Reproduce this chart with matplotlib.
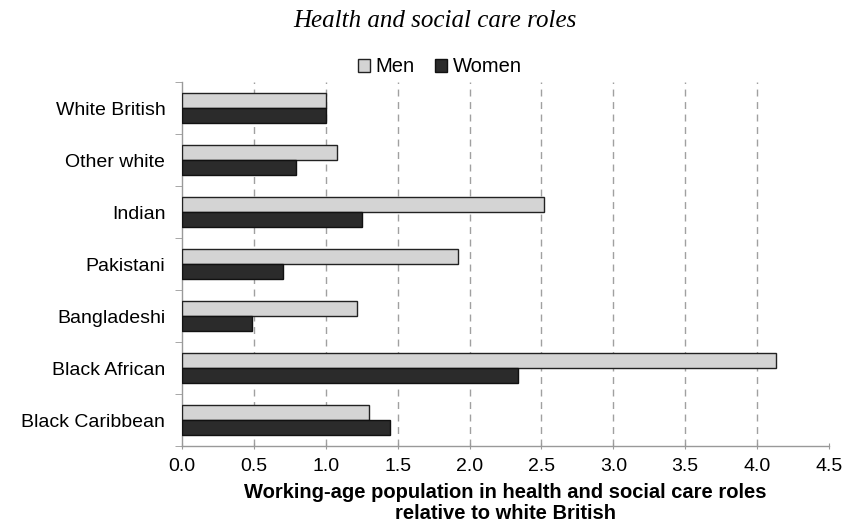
import matplotlib
matplotlib.use("Agg")
import matplotlib.pyplot as plt
import numpy as np
from matplotlib.patches import Patch

categories = ["White British", "Other white", "Indian", "Pakistani",
              "Bangladeshi", "Black African", "Black Caribbean"]
men = [1.00, 1.08, 2.52, 1.92, 1.22, 4.13, 1.30]
women = [1.00, 0.79, 1.25, 0.70, 0.49, 2.34, 1.45]
xticks = [0.0, 0.5, 1.0, 1.5, 2.0, 2.5, 3.0, 3.5, 4.0, 4.5]

plt.rcParams['font.family'] = ['Liberation Sans', 'DejaVu Sans']

fig = plt.figure(figsize=(8.62, 5.25), dpi=100)
ax = fig.add_axes([182/862, 1-446/525, (829-182)/862, (446-82)/525])

n = len(categories)
y = np.arange(n)
h = 0.29
ax.barh(y - h/2, men, height=h, color='#d4d4d4', edgecolor='#222222', linewidth=1.0, zorder=3)
ax.barh(y + h/2, women, height=h, color='#2b2b2b', edgecolor='#111111', linewidth=1.0, zorder=3)

ax.set_ylim(n - 0.5, -0.5)
ax.set_xlim(0, 4.5)
ax.set_xticks(xticks)
ax.set_xticklabels([f"{v:.1f}" for v in xticks], fontsize=14)
ax.set_yticks(y)
ax.set_yticklabels(categories, fontsize=14)
ax.tick_params(axis='y', length=0, pad=12)
ax.set_yticks(np.arange(-0.5, n, 1.0), minor=True)
ax.tick_params(axis='y', which='minor', length=5, color='#999999', direction='out')
ax.tick_params(axis='x', length=5, color='#999999', direction='inout', pad=6)

for v in xticks[1:-1]:
    ax.axvline(v, color='#a0a0a0', linestyle=(0, (5, 4)), linewidth=1.0, zorder=1)

for s in ['top', 'right']:
    ax.spines[s].set_visible(False)
for s in ['left', 'bottom']:
    ax.spines[s].set_color('#999999')
    ax.spines[s].set_linewidth(1.0)

ax.set_xlabel("Working-age population in health and social care roles\nrelative to white British",
              fontsize=14.5, fontweight='bold', labelpad=6, linespacing=1.15)

handles = [Patch(facecolor='#d4d4d4', edgecolor='#222222', label='Men'),
           Patch(facecolor='#2b2b2b', edgecolor='#111111', label='Women')]
fig.legend(handles=handles, loc='center', bbox_to_anchor=(440/862, 1-67/525), ncol=2,
           frameon=False, fontsize=14.5, handlelength=0.6, handleheight=0.6,
           handletextpad=0.3, columnspacing=1.0, borderpad=0)

fig.text(435/862, 1-21/525, "Health and social care roles", ha='center', va='center',
         fontsize=18, style='italic', family=['Liberation Serif', 'DejaVu Serif'])

fig.savefig("out.png", dpi=100)
